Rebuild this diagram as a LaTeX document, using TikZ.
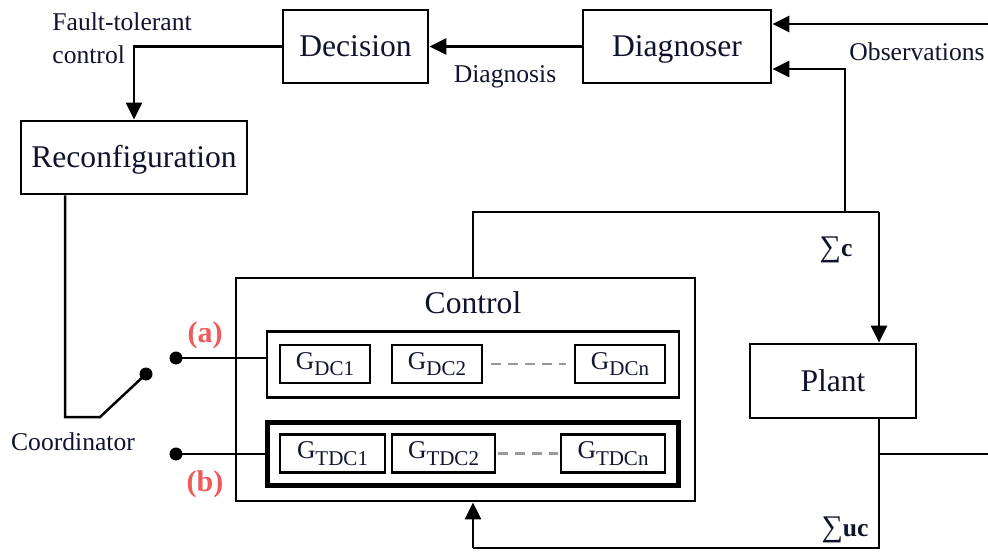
\documentclass[tikz,border=0pt]{standalone}
\usepackage{fontspec}
\setmainfont{LiberationSerif}[Extension=.ttf, UprightFont=*-Regular, BoldFont=*-Bold, ItalicFont=*-Italic, BoldItalicFont=*-BoldItalic]
\usetikzlibrary{arrows.meta,calc}
\definecolor{txt}{RGB}{15,20,45}
\definecolor{redl}{RGB}{240,90,90}
\newcommand\bigf{\fontsize{15.8}{18}\selectfont}
\newcommand\smf{\fontsize{12.8}{16.5}\selectfont}
\newcommand\gf{\fontsize{12.8}{14}\selectfont}
\newcommand\subf{\fontsize{10.5}{12}\selectfont}
\newcommand\Gs[1]{G\raisebox{-3.2pt}{\subf #1}}
\begin{document}
\begin{tikzpicture}[x=0.5pt,y=-0.5pt,
  box/.style={draw, line width=1.4pt, inner sep=0pt, font=\bigf, text=txt, text height=10.4pt, text depth=0pt},
  gbox/.style={draw, line width=1.4pt, inner sep=0pt, font=\gf, text=txt, minimum height=19pt},
  grp/.style={draw, line width=1.4pt, inner sep=0pt},
  wire/.style={line width=1.25pt},
  arr/.style={wire, -{Triangle[length=8.5pt,width=8pt]}},
  lbl/.style={inner sep=0pt, font=\smf, text=txt},
  redlbl/.style={inner sep=0pt, font=\bfseries\fontsize{15}{18}\selectfont, text=redl},
  dashln/.style={gray!80, line width=1.1pt, dash pattern=on 5pt off 3.5pt},
  dotn/.style={circle, fill=black, inner sep=0pt, minimum size=6.5pt}]
\useasboundingbox (0,0) rectangle (988,552);

% main boxes
\node[box, minimum width=94pt, minimum height=36.5pt] (diag) at (677,46.5) {Diagnoser};
\node[box, minimum width=72.5pt, minimum height=36.5pt] (dec) at (355.5,46.5) {Decision};
\node[box, minimum width=113pt, minimum height=36.5pt] (rec) at (134,157.5) {Reconfiguration};
\node[box, minimum width=83pt, minimum height=37pt] (plant) at (833,381) {Plant};
\node[grp, minimum width=229.5pt, minimum height=111.5pt] (ctrl) at (465.5,389.5) {};
\node[lbl, font=\bigf] (ctrlt) at (473,303) {Control};

% groups
\node[grp, minimum width=206pt, minimum height=33pt] (dcg) at (473,364.5) {};
\node[grp, line width=2.6pt, minimum width=205.5pt, minimum height=31.5pt] (tdcg) at (473,454) {};

\node[gbox, minimum width=45pt] (g1) at (325,364) {\Gs{DC1}};
\node[gbox, minimum width=45pt] (g2) at (437,364) {\Gs{DC2}};
\node[gbox, minimum width=45pt] (gn) at (620,364) {\Gs{DCn}};
\node[gbox, minimum width=52.5pt] (t1) at (332.5,453.5) {\Gs{TDC1}};
\node[gbox, minimum width=51.5pt] (t2) at (443.5,453.5) {\Gs{TDC2}};
\node[gbox, minimum width=52pt] (tn) at (613,453.5) {\Gs{TDCn}};
\draw[dashln, shorten <=4pt, shorten >=4pt] (g2.east) -- (gn.west);
\draw[dashln, shorten <=1pt, shorten >=1pt] (t2.east) -- (tn.west);

% switch
\node[dotn] (da) at (176,358) {};
\node[dotn] (db) at (176,454) {};
\node[dotn] (ds) at (146,374) {};
\coordinate (sw1) at (65,417);
\coordinate (sw2) at (100,417);
\draw[wire] (da.center) -- (dcg.west |- da);
\draw[wire] (db.center) -- (tdcg.west |- db);
\draw[wire] (rec.south -| sw1) -- (sw1) -- (sw2) -- (ds.center);

% connectors
\coordinate (obsR) at (988,24);
\coordinate (j1) at (473,212);
\coordinate (j2) at (845,212);
\coordinate (j3) at (879,212);
\coordinate (lv2) at (0,69);
\coordinate (b1) at (879,548);
\coordinate (b2) at (473,548);
\coordinate (pb) at (879,454);
\coordinate (pe) at (988,454);

\draw[arr] (diag.west) -- (dec.east);
\draw[arr] (dec.west) -| (rec.north);
\draw[arr] (obsR) -- (obsR -| diag.east);
\draw[wire] (ctrl.north -| j1) -- (j1) -- (j3);
\draw[arr] (j3) -- (plant.north -| j3);
\draw[arr] (j2) |- (diag.east |- lv2);
\draw[wire] (plant.south -| b1) -- (b1) -- (b2);
\draw[arr] (b2) -- (ctrl.south -| b2);
\draw[wire] (pb) -- (pe);

% labels
\node[lbl, anchor=west, align=left] (ftc) at (52,38) {Fault-tolerant\\control};
\node[lbl] (dgl) at (505,77) {Diagnosis};
\node[lbl] (obs) at (917,52) {Observations};
\node[lbl] (coord) at (73,442) {Coordinator};
\node[redlbl] (la) at (205,335) {(a)};
\node[redlbl] (lb) at (205,484) {(b)};
\node[lbl] (sc) at (836,250) {{\fontsize{15}{18}\selectfont ∑}\textbf{c}};
\node[lbl] (suc) at (845,530) {{\fontsize{15}{18}\selectfont ∑}\textbf{uc}};
\end{tikzpicture}
\end{document}
